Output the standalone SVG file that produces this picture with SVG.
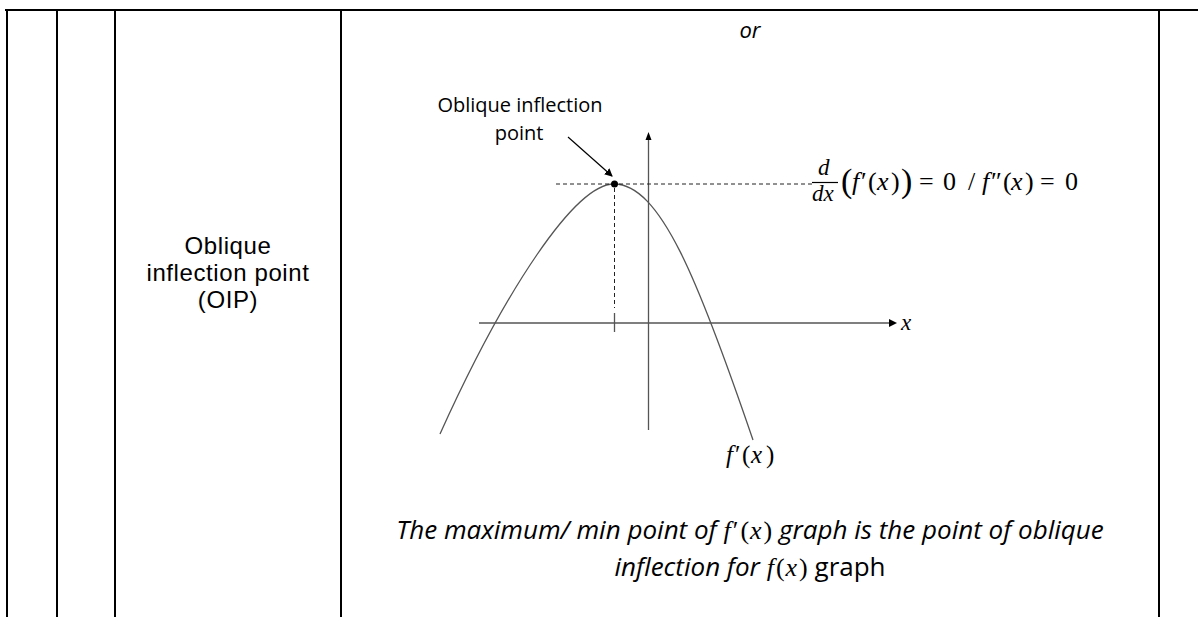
<svg xmlns="http://www.w3.org/2000/svg" width="1198" height="617" viewBox="0 0 1198 617">
<style>
.tbl{stroke:#000;stroke-width:2;fill:none}
.ax{stroke:#555;stroke-width:1.3;fill:none}
.dash{stroke:#222;stroke-width:1;stroke-dasharray:4 3;fill:none}
.body{font-family:"Open Sans","Liberation Sans",sans-serif;font-size:24px;fill:#000}
.side{font-family:"Liberation Sans",Arial,sans-serif;font-size:24px;letter-spacing:0.6px;fill:#000}
.cap{font-size:26px}
.it{font-style:italic}
.m{font-family:"Liberation Serif","DejaVu Serif",serif;font-size:26px;fill:#000}
.mi{font-family:"Liberation Serif","DejaVu Serif",serif;font-style:italic}
.mu{font-family:"Liberation Serif","DejaVu Serif",serif;font-style:normal}
</style>
<defs>
<marker id="ah" markerWidth="8" markerHeight="8" refX="7" refY="4" orient="auto" markerUnits="userSpaceOnUse">
<path d="M0,0 L8,4 L0,8 Z" fill="#000"/>
</marker>
</defs>
<rect width="1198" height="617" fill="#fff"/>
<g id="table">
<line class="tbl" x1="5" y1="10" x2="1198" y2="10"/>
<line class="tbl" x1="7" y1="10" x2="7" y2="617"/>
<line class="tbl" x1="57" y1="10" x2="57" y2="617"/>
<line class="tbl" x1="115" y1="10" x2="115" y2="617"/>
<line class="tbl" x1="341" y1="10" x2="341" y2="617"/>
<line class="tbl" x1="1159" y1="10" x2="1159" y2="617"/>
</g>
<g id="row-label">
<text class="side" text-anchor="middle" x="228" y="254">Oblique</text>
<text class="side" text-anchor="middle" x="228" y="281">inflection point</text>
<text class="side" text-anchor="middle" x="228" y="308">(OIP)</text>
</g>
<g id="or-text">
<text class="body it" text-anchor="middle" x="750" y="38" style="font-size:22px">or</text>
</g>
<g id="graph">
<line class="ax" x1="479" y1="323" x2="890" y2="323"/>
<path d="M889,319 L897,323 L889,327 Z" fill="#000"/>
<line class="ax" x1="648.5" y1="430" x2="648.5" y2="140"/>
<path d="M645.5,140 L648.5,132 L651.5,140 Z" fill="#000"/>
<path class="ax" d="M440,434 C505,290 575,184 614,184 C660,184 698,279 753,440"/>
<line class="dash" x1="556" y1="184" x2="812" y2="184"/>
<line class="dash" x1="614.5" y1="188" x2="614.5" y2="308"/>
<line stroke="#555" stroke-width="1.3" x1="614.5" y1="313" x2="614.5" y2="332"/>
<circle cx="614.5" cy="184" r="3.5" fill="#000"/>
<text class="m mi" x="901" y="330" style="font-size:23px">x</text>
<text class="m" y="463" style="font-size:25px"><tspan class="mi" x="726">f</tspan><tspan x="735">′</tspan><tspan x="742">(</tspan><tspan class="mi" x="751">x</tspan><tspan x="766">)</tspan></text>
</g>
<g id="oip-label">
<text class="body" text-anchor="middle" x="520" y="112" style="font-size:20px">Oblique inflection</text>
<text class="body" text-anchor="middle" x="519" y="140" style="font-size:20px">point</text>
</g>
<g id="connectors">
<line x1="568" y1="137" x2="612" y2="176" stroke="#000" stroke-width="1.2" marker-end="url(#ah)"/>
</g>
<g id="equation">
<text class="m mi" x="818" y="175" style="font-size:23px">d</text>
<line x1="812" y1="182.5" x2="838" y2="182.5" stroke="#000" stroke-width="1.2"/>
<text class="m mi" x="812" y="201" style="font-size:23px">dx</text>
<text class="m" y="190">
<tspan x="841" y="192" style="font-size:34px">(</tspan><tspan class="mi" x="852" y="190">f</tspan><tspan x="861">′</tspan><tspan x="868">(</tspan><tspan class="mi" x="877">x</tspan><tspan x="891">)</tspan><tspan x="901" y="192" style="font-size:34px">)</tspan><tspan x="919" y="190">=</tspan><tspan x="943">0</tspan><tspan x="968">/</tspan><tspan class="mi" x="982">f</tspan><tspan x="991">″</tspan><tspan x="1003">(</tspan><tspan class="mi" x="1011">x</tspan><tspan x="1025">)</tspan><tspan x="1040">=</tspan><tspan x="1065">0</tspan>
</text>
</g>
<g id="caption">
<text class="body cap" text-anchor="middle" x="750" y="539"><tspan class="it">The maximum/ min point of </tspan><tspan class="mi" style="font-size:26px">f</tspan><tspan class="mu" dx="2" style="font-size:26px">′</tspan><tspan class="mu" dx="2" style="font-size:26px">(</tspan><tspan class="mi" dx="1" style="font-size:26px">x</tspan><tspan class="mu" dx="2" style="font-size:26px">)</tspan><tspan class="it"> graph is the point of oblique</tspan></text>
<text class="body cap" text-anchor="middle" x="750" y="576"><tspan class="it">inflection for </tspan><tspan class="mi" style="font-size:26px">f</tspan><tspan class="mu" dx="2" style="font-size:26px">(</tspan><tspan class="mi" dx="1" style="font-size:26px">x</tspan><tspan class="mu" dx="2" style="font-size:26px">)</tspan><tspan> graph</tspan></text>
</g>
</svg>
